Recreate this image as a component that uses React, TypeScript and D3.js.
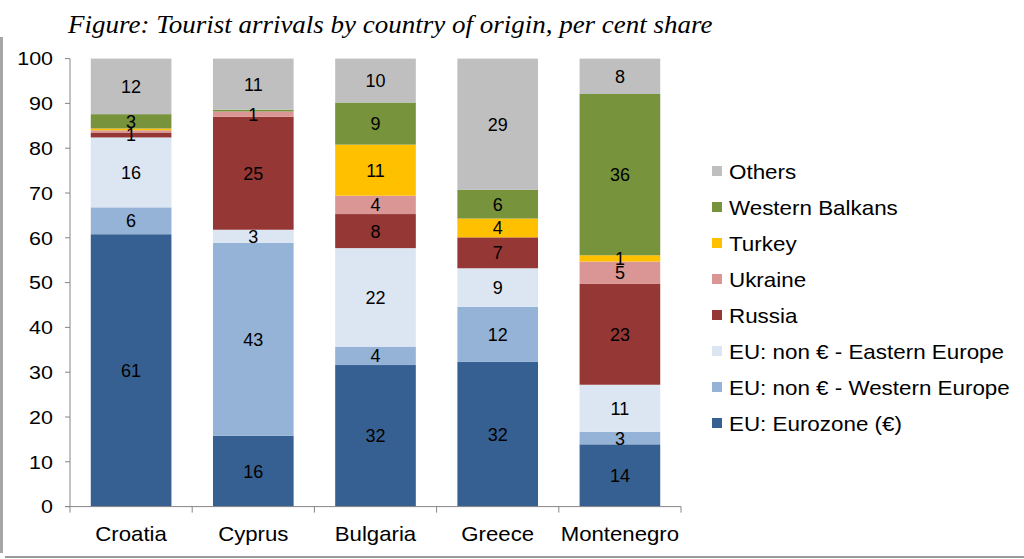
import React from "react";
import * as d3 from "d3";

const countries = ["Croatia", "Cyprus", "Bulgaria", "Greece", "Montenegro"];
const seriesNames = [
  "EU: Eurozone (€)",
  "EU: non € - Western Europe",
  "EU: non € - Eastern Europe",
  "Russia",
  "Ukraine",
  "Turkey",
  "Western Balkans",
  "Others",
];
const seriesColors = ["#376092", "#95B3D7", "#DCE6F2", "#953735", "#D99694", "#FFC000", "#77933C", "#BFBFBF"];

const eurozone = [60.8, 15.8, 31.6, 32.3, 13.9];
const westernEU = [6.0, 43.1, 4.1, 12.3, 2.8];
const easternEU = [15.6, 2.9, 22.0, 8.6, 10.5];
const russia = [1.1, 25.2, 7.6, 6.9, 22.5];
const ukraine = [0.5, 1.2, 4.1, 0, 5.0];
const turkey = [0.4, 0, 11.4, 4.2, 1.4];
const westernBalkans = [3.2, 0.4, 9.4, 6.4, 36.0];
const others = [12.4, 11.4, 9.8, 29.3, 7.9];

const seriesValues = [eurozone, westernEU, easternEU, russia, ukraine, turkey, westernBalkans, others];
const yTicks = [0, 10, 20, 30, 40, 50, 60, 70, 80, 90, 100];

const W = 1024;
const H = 559;
const FONT = "Liberation Sans, Arial, sans-serif";

export default function App() {
  const x = d3.scaleBand<string>().domain(countries).range([70, 681]).paddingInner(0.34).paddingOuter(0.17);
  const y = d3.scaleLinear().domain([0, 100]).range([506.6, 58.6]);

  const rows = countries.map((c, i) => {
    const r: any = { country: c };
    seriesNames.forEach((s, j) => (r[s] = seriesValues[j][i]));
    return r;
  });
  const stacked = d3.stack<any>().keys(seriesNames)(rows);

  const bandStep = (681 - 70) / countries.length;
  const catTicks = d3.range(countries.length + 1).map((i) => 70 + i * bandStep);

  const legendOrder = seriesNames.map((_, i) => seriesNames.length - 1 - i);

  return (
    <svg width={W} height={H} style={{ position: "absolute", left: 0, top: 0, background: "#fff" }}>
      <rect x={0} y={0} width={W} height={H} fill="#fff" />
      {/* frame */}
      <rect x={0} y={37} width={3} height={516} fill="#a6a6a6" />
      <rect x={5} y={556} width={W - 5} height={2} fill="#9a9a9a" />

      {/* title */}
      <text
        transform="translate(68,33) scale(1.08,1)"
        fontFamily="Liberation Serif, Times New Roman, serif"
        fontStyle="italic"
        fontSize={25}
        fill="#000"
      >
        Figure: Tourist arrivals by country of origin, per cent share
      </text>

      {/* bars */}
      {stacked.map((layer, j) => (
        <g key={layer.key}>
          {layer.map((d, i) => {
            const h = y(d[0]) - y(d[1]);
            if (h <= 0) return null;
            return (
              <rect
                key={i}
                x={x(countries[i])}
                y={y(d[1])}
                width={x.bandwidth()}
                height={h}
                fill={seriesColors[j]}
              />
            );
          })}
        </g>
      ))}

      {/* data labels */}
      {stacked.map((layer, j) => (
        <g key={"l" + layer.key}>
          {layer.map((d, i) => {
            const v = seriesValues[j][i];
            if (v < 0.9) return null;
            return (
              <text
                key={i}
                x={(x(countries[i]) as number) + x.bandwidth() / 2}
                y={y((d[0] + d[1]) / 2)}
                dy="0.36em"
                textAnchor="middle"
                fontFamily={FONT}
                fontSize={18}
                fill="#000"
              >
                {Math.round(v)}
              </text>
            );
          })}
        </g>
      ))}

      {/* y axis */}
      <line x1={70} x2={70} y1={y(100)} y2={y(0)} stroke="#868686" strokeWidth={1} />
      {yTicks.map((t) => (
        <g key={t}>
          <line x1={65} x2={70} y1={y(t)} y2={y(t)} stroke="#868686" />
          <text
            transform={`translate(53,${y(t)}) scale(1.13,1)`}
            dy="0.36em"
            textAnchor="end"
            fontFamily={FONT}
            fontSize={19}
            fill="#000"
          >
            {t}
          </text>
        </g>
      ))}

      {/* x axis */}
      <line x1={65} x2={681} y1={y(0)} y2={y(0)} stroke="#868686" />
      {catTicks.map((t, i) => (
        <line key={i} x1={t} x2={t} y1={y(0)} y2={y(0) + 6} stroke="#868686" />
      ))}
      {countries.map((c) => (
        <text
          key={c}
          transform={`translate(${(x(c) as number) + x.bandwidth() / 2},540.5) scale(1.11,1)`}
          textAnchor="middle"
          fontFamily={FONT}
          fontSize={20}
          fill="#000"
        >
          {c}
        </text>
      ))}

      {/* legend */}
      {legendOrder.map((j, k) => (
        <g key={"lg" + j} transform={`translate(712, ${171.5 + k * 36})`}>
          <rect x={0} y={-5.5} width={10} height={10} fill={seriesColors[j]} />
          <text transform="translate(17,0) scale(1.12,1)" dy="0.36em" fontFamily={FONT} fontSize={20} fill="#000">
            {seriesNames[j]}
          </text>
        </g>
      ))}
    </svg>
  );
}
